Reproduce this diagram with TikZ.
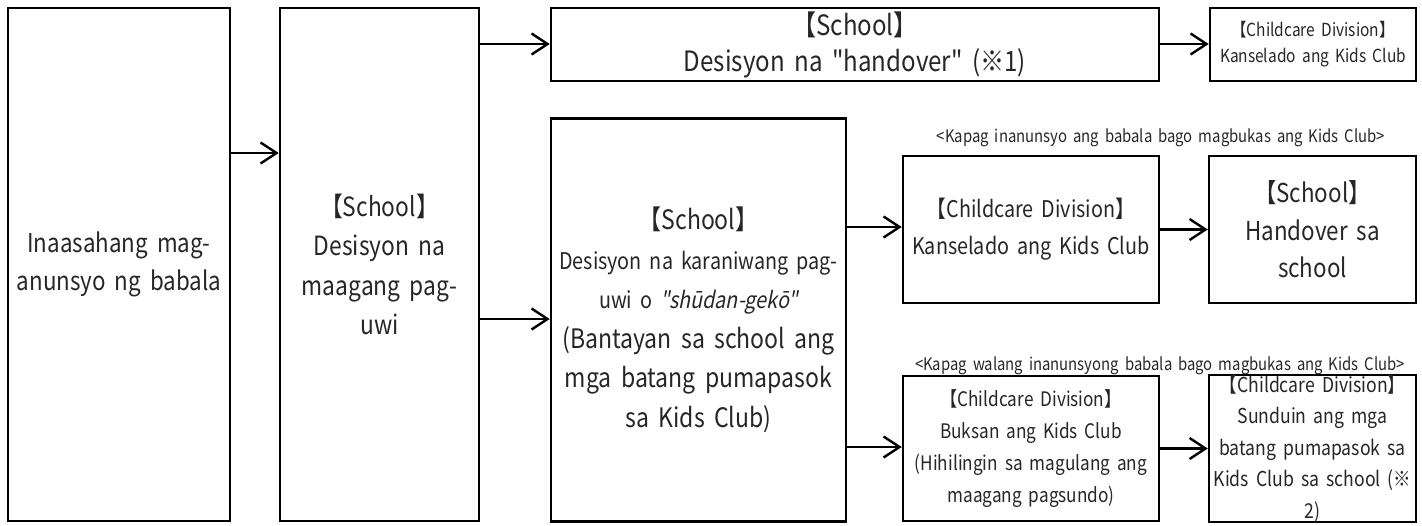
\documentclass[tikz,border=0pt]{standalone}
\usepackage{fontspec}
\setmainfont{Noto Sans CJK JP}[Ligatures=TeXOff, FakeStretch=0.86, WordSpace=1.8]
\newfontfamily\slfont{Noto Sans CJK JP}[Ligatures=TeXOff, FakeStretch=0.86, FakeSlant=0.2, WordSpace=1.8]
\usetikzlibrary{arrows.meta}
\begin{document}
\begin{tikzpicture}[x=1pt,y=-1pt,
  box/.style={draw, line width=2.5pt, rectangle, inner sep=0pt, align=center, text=black!85},
  conn/.style={line width=2.4pt, -{Straight Barb[length=16pt,width=21pt,line width=2.4pt]}},
  lbl/.style={inner sep=0pt, text=black!85, font=\fontsize{17.3}{19}\selectfont}]
\useasboundingbox (0,0) rectangle (1422,525);

\node[box, minimum width=222pt, minimum height=513pt, font=\fontsize{26}{38}\selectfont] (A) at (119,264.5)
  {Inaasahang mag-\\anunsyo ng babala};
\node[box, minimum width=199pt, minimum height=513pt, font=\fontsize{26.5}{39.5}\selectfont] (B) at (379.5,264.5)
  {【School】\\Desisyon na\\maagang pag-\\uwi};
\node[box, minimum width=608pt, minimum height=73pt, font=\fontsize{28}{36}\selectfont] (C) at (855,44.5)
  {【School】\\Desisyon na "handover" (※1)};
\node[box, minimum width=206pt, minimum height=73pt, font=\fontsize{18}{26}\selectfont] (D) at (1313,44.5)
  {【Childcare Division】\\Kanselado ang Kids Club};
\node[box, minimum width=295pt, minimum height=403pt, font=\fontsize{26.8}{39.5}\selectfont] (E) at (698.5,320)
  {【School】\\{\fontsize{23}{26}\selectfont Desisyon na karaniwang pag-}\\{\fontsize{23}{26}\selectfont uwi o {\slfont "shūdan-gekō"}}\\(Bantayan sa school ang\\mga batang pumapasok\\sa Kids Club)};
\node[box, minimum width=256pt, minimum height=147pt, font=\fontsize{23}{37}\selectfont] (F) at (1031,229.5)
  {【Childcare Division】\\Kanselado ang Kids Club};
\node[box, minimum width=207pt, minimum height=147pt, font=\fontsize{26}{37.5}\selectfont] (G) at (1312.5,229.5)
  {【School】\\Handover sa\\school};
\node[box, minimum width=256pt, minimum height=145pt, font=\fontsize{20}{32}\selectfont] (H) at (1031,448.5)
  {【Childcare Division】\\Buksan ang Kids Club\\(Hihilingin sa magulang ang\\maagang pagsundo)};
\node[box, minimum width=207pt, minimum height=145pt, font=\fontsize{20.5}{31.5}\selectfont] (I) at (1312.5,448.5)
  {【Childcare Division】\\Sunduin ang mga\\batang pumapasok sa\\Kids Club sa school (※\\2)};

\node[lbl] (L1) at (1161,138) {<Kapag inanunsyo ang babala bago magbukas ang Kids Club>};
\node[lbl] (L2) at (1160,366) {<Kapag walang inanunsyong babala bago magbukas ang Kids Club>};

\draw[conn] (A.east |- 0,153) -- (B.west |- 0,153);
\draw[conn] (B.east |- 0,44) -- (C.west |- 0,44);
\draw[conn] (B.east |- 0,319) -- (E.west |- 0,319);
\draw[conn] (C.east |- 0,44) -- (D.west |- 0,44);
\draw[conn] (E.east |- 0,227) -- (F.west |- 0,227);
\draw[conn] (E.east |- 0,447) -- (H.west |- 0,447);
\draw[conn] (F.east |- 0,229.5) -- (G.west |- 0,229.5);
\draw[conn] (H.east |- 0,448.5) -- (I.west |- 0,448.5);
\end{tikzpicture}
\end{document}
